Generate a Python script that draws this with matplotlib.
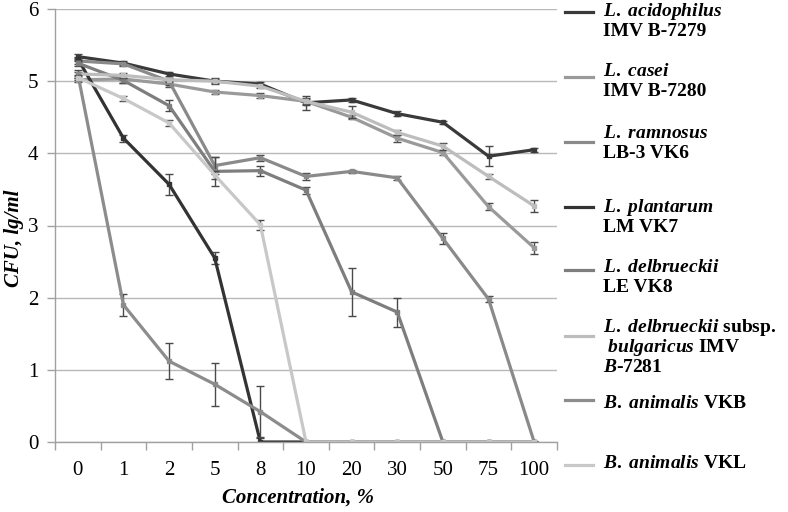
import numpy as np
import matplotlib
matplotlib.use("Agg")
import matplotlib.pyplot as plt
from matplotlib.lines import Line2D

plt.rcParams['mathtext.fontset'] = 'custom'
plt.rcParams['mathtext.rm'] = 'Liberation Serif:bold'
plt.rcParams['mathtext.it'] = 'Liberation Serif:italic:bold'
plt.rcParams['mathtext.bf'] = 'Liberation Serif:bold'

concentrations = ["0", "1", "2", "5", "8", "10", "20", "30", "50", "75", "100"]

acidophilus = [5.34, 5.25, 5.10, 5.00, 4.96, 4.70, 4.74, 4.55, 4.43, 3.96, 4.05]
acidophilus_err = [0.03, 0.03, 0.03, 0.04, 0.03, 0.10, 0.03, 0.03, 0.02, 0.14, 0.03]
casei = [5.02, 5.03, 4.96, 4.85, 4.80, 4.72, 4.50, 4.21, 4.01, 3.26, 2.69]
casei_err = [0.03, 0.05, 0.04, 0.03, 0.03, 0.05, 0.03, 0.05, 0.04, 0.05, 0.08]
ramnosus = [5.28, 5.24, 5.00, 3.83, 3.94, 3.68, 3.75, 3.66, 2.82, 1.98, 0.0]
ramnosus_err = [0.04, 0.03, 0.05, 0.12, 0.04, 0.05, 0.02, 0.03, 0.07, 0.04, 0.0]
plantarum = [5.31, 4.21, 3.57, 2.55, 0.0, 0.0, 0.0, 0.0, 0.0, 0.0, 0.0]
plantarum_err = [0.03, 0.05, 0.15, 0.08, 0.06, 0.0, 0.0, 0.0, 0.0, 0.0, 0.0]
delbrueckii_le = [5.25, 5.01, 4.66, 3.75, 3.76, 3.49, 2.08, 1.80, 0.0, 0.0, 0.0]
delbrueckii_le_err = [0.04, 0.04, 0.08, 0.20, 0.07, 0.05, 0.33, 0.20, 0.0, 0.0, 0.0]
bulgaricus = [5.10, 5.08, 5.02, 5.00, 4.93, 4.72, 4.57, 4.29, 4.10, 3.68, 3.27]
bulgaricus_err = [0.03, 0.03, 0.03, 0.03, 0.03, 0.03, 0.08, 0.04, 0.05, 0.03, 0.08]
animalis_vkb = [5.10, 1.90, 1.12, 0.80, 0.42, 0.0, 0.0, 0.0, 0.0, 0.0, 0.0]
animalis_vkb_err = [0.05, 0.15, 0.25, 0.30, 0.35, 0.0, 0.0, 0.0, 0.0, 0.0, 0.0]
animalis_vkl = [5.05, 4.76, 4.42, 3.70, 3.01, 0.0, 0.0, 0.0, 0.0, 0.0, 0.0]
animalis_vkl_err = [0.03, 0.04, 0.04, 0.05, 0.07, 0.0, 0.0, 0.0, 0.0, 0.0, 0.0]

series = [
    (acidophilus, acidophilus_err, '#3a3a3a'),
    (casei, casei_err, '#9a9a9a'),
    (ramnosus, ramnosus_err, '#8a8a8a'),
    (plantarum, plantarum_err, '#333333'),
    (delbrueckii_le, delbrueckii_le_err, '#7e7e7e'),
    (bulgaricus, bulgaricus_err, '#bdbdbd'),
    (animalis_vkb, animalis_vkb_err, '#8c8c8c'),
    (animalis_vkl, animalis_vkl_err, '#c8c8c8'),
]

legend_entries = [
    ([r"$\mathit{L.}$ $\mathit{acidophilus}$", "IMV B-7279"], [12, 32], 12),
    ([r"$\mathit{L.}$ $\mathit{casei}$", "IMV B-7280"], [72, 92], 77),
    ([r"$\mathit{L.}$ $\mathit{ramnosus}$", "LB-3 VK6"], [133, 154], 142),
    ([r"$\mathit{L.}$ $\mathit{plantarum}$", "LM VK7"], [207, 227], 207),
    ([r"$\mathit{L.}$ $\mathit{delbrueckii}$", "LE VK8"], [268, 288], 270),
    ([r"$\mathit{L.}$ $\mathit{delbrueckii}$ subsp.", r" $\mathit{bulgaricus}$ IMV",
      r"$\mathit{B}$-$\mathit{7281}$"], [328, 348, 368], 336),
    ([r"$\mathit{B.}$ $\mathit{animalis}$ VKB"], [403], 400),
    ([r"$\mathit{B.}$ $\mathit{animalis}$ VKL"], [463], 465),
]

W, H = 788, 512
fig = plt.figure(figsize=(W / 100, H / 100), dpi=100)
ax = fig.add_axes([55 / W, 1 - 442 / H, (557 - 55) / W, (442 - 9) / H])

x = np.arange(len(concentrations))
for i, (vals, err, col) in enumerate(series):
    ax.errorbar(x, vals, yerr=err, color=col, lw=2.3, marker='s', ms=3,
                ecolor='#4a4a4a', elinewidth=1, capsize=3, capthick=1,
                zorder=3 + i)

ax.set_xlim(-0.5, len(concentrations) - 0.5)
ax.set_ylim(0, 6)
ax.set_yticks(range(0, 7))
ax.set_xticks(x)
ax.set_xticklabels(concentrations)
ax.set_xticks(np.arange(-0.5, len(concentrations)), minor=True)
ax.tick_params(axis='x', which='major', length=0, pad=14)
ax.tick_params(axis='x', which='minor', length=6, color='#a0a0a0', width=1)
ax.tick_params(axis='y', length=6, color='#a0a0a0', width=1, pad=6)
for lab in ax.get_xticklabels() + ax.get_yticklabels():
    lab.set_fontfamily('Liberation Serif')
    lab.set_fontsize(15)

ax.grid(axis='y', color='#b8b8b8', lw=1)
ax.set_axisbelow(True)
for s in ['top', 'right']:
    ax.spines[s].set_visible(False)
for s in ['left', 'bottom']:
    ax.spines[s].set_color('#a0a0a0')
    ax.spines[s].set_linewidth(1)
    ax.spines[s].set_zorder(20)

ax.set_xlabel("Concentration, %", fontfamily='Liberation Serif',
              fontstyle='italic', fontweight='bold', fontsize=15, va='center')
ax.xaxis.set_label_coords((298 - 55) / (557 - 55), -(498 - 442) / (442 - 9))
ax.set_ylabel("CFU, lg/ml", fontfamily='Liberation Serif',
              fontstyle='italic', fontweight='bold', fontsize=15, va='center')
ax.yaxis.set_label_coords(-(55 - 14) / (557 - 55), (442 - 238) / (442 - 9))

for (lines, ys, ly), (_, _, col) in zip(legend_entries, series):
    fig.add_artist(Line2D([565 / W, 593 / W], [1 - ly / H, 1 - ly / H],
                          color=col, lw=2.3, transform=fig.transFigure))
    for t, ty in zip(lines, ys):
        fig.text(603 / W, 1 - ty / H, t, fontfamily='Liberation Serif',
                 fontweight='bold', fontsize=14, va='center', ha='left')

fig.savefig("out.png", dpi=100)
